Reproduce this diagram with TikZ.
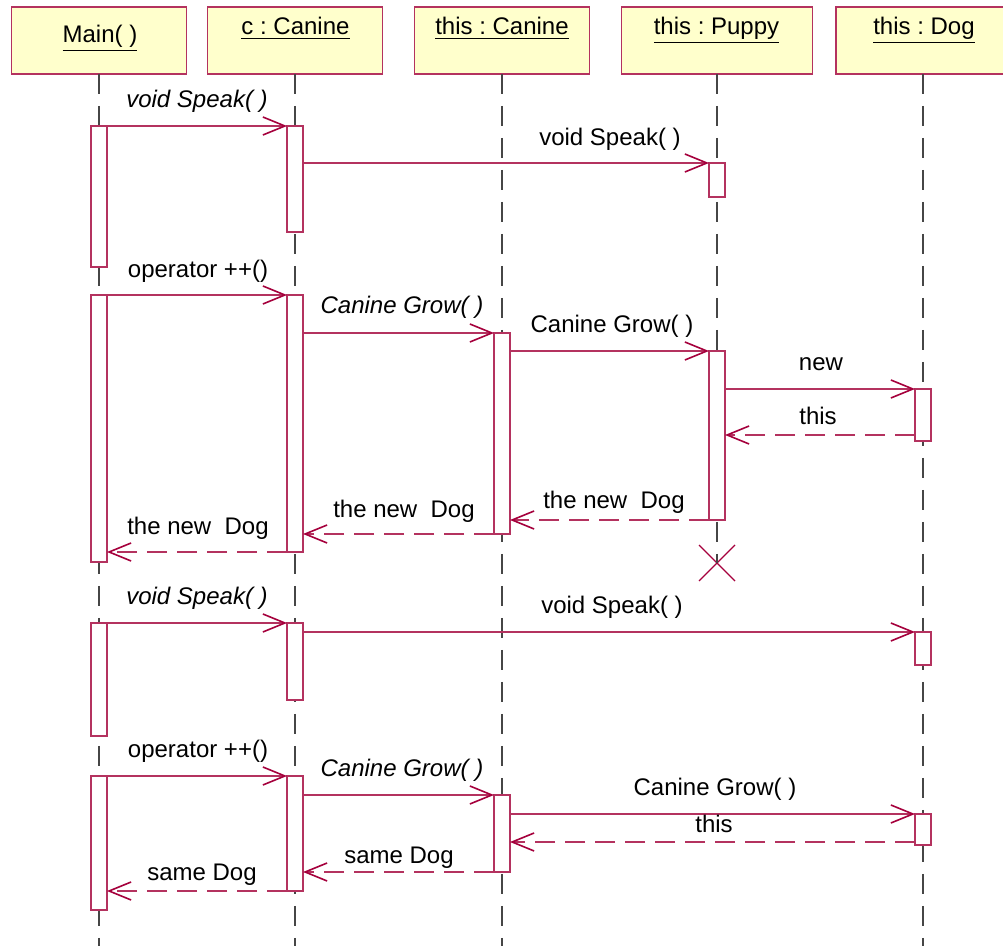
\documentclass[tikz,border=0pt]{standalone}
\usepackage{fontspec}
\setmainfont{Liberation Sans}
\usetikzlibrary{arrows.meta,shapes.misc}
\definecolor{umlred}{RGB}{165,0,60}
\definecolor{umlpink}{RGB}{180,50,95}
\definecolor{hdrfill}{RGB}{255,255,204}
\definecolor{lifegray}{RGB}{70,70,70}
\newcommand\actbar[4]{\node[actbox, minimum height=#4*0.5pt] (#1) at (#2,#3) {};}
\frenchspacing
\begin{document}
\begin{tikzpicture}[x=0.5pt,y=-0.5pt,
  hdr/.style={draw=umlpink, fill=hdrfill, line width=0.6pt, minimum height=33.5pt, inner sep=0pt, outer sep=0pt, anchor=north},
  txt/.style={anchor=base, inner sep=0pt, font=\fontsize{12}{14}\selectfont},
  itxt/.style={txt, font=\fontsize{12}{14}\selectfont\itshape},
  life/.style={draw=lifegray, line width=0.55pt, dash pattern=on 10pt off 6pt},
  actbox/.style={draw=umlpink, fill=white, line width=0.6pt, minimum width=8pt, inner sep=0pt, outer sep=0pt, anchor=north},
  call/.style={draw=umlpink, line width=0.55pt, -{Straight Barb[length=11pt,width=9pt,line width=0.8pt,color=umlred]}},
  ret/.style={call, dash pattern=on 10pt off 5pt},
  killx/.style={cross out, draw=umlred, line width=0.6pt, minimum size=18pt, inner sep=0pt, outer sep=0pt}]
\useasboundingbox (0,0) rectangle (1003,946);
\coordinate (bot) at (0,946);
% headers
\node[hdr, minimum width=87.5pt] (hMain) at (99,7) {};
\node[hdr, minimum width=87.5pt] (hC) at (295,7) {};
\node[hdr, minimum width=87.5pt] (hT) at (502,7) {};
\node[hdr, minimum width=95.5pt] (hP) at (717,7) {};
\node[hdr, minimum width=87pt] (hD) at (923,7) {};
\node[txt] (tMain) at (100,43) {\underline{Main( )}};
\node[txt] (tC) at (295.5,35) {\underline{c : Canine}};
\node[txt] (tT) at (502,35) {\underline{this : Canine}};
\node[txt] (tP) at (716.5,35) {\underline{this : Puppy}};
\node[txt] (tD) at (924,35) {\underline{this : Dog}};
% destruction mark
\node[killx] (kill) at (717,563) {};
% lifelines
\draw[life] (hMain.south) -- (hMain.south |- bot);
\draw[life] (hC.south) -- (hC.south |- bot);
\draw[life] (hT.south) -- (hT.south |- bot);
\draw[life] (hP.south) -- (kill.center);
\draw[life] (hD.south) -- (hD.south |- bot);
% activations
\actbar{m1}{99}{126}{141}
\actbar{c1}{295}{126}{106}
\actbar{p1}{717}{163}{34}
\actbar{m2}{99}{295}{267}
\actbar{c2}{295}{295}{257}
\actbar{t2}{502}{333}{201}
\actbar{p2}{717}{351}{169}
\actbar{d1}{923}{389}{52}
\actbar{m3}{99}{623}{113}
\actbar{c3}{295}{623}{77}
\actbar{d3}{923}{632}{33}
\actbar{m4}{99}{776}{134}
\actbar{c4}{295}{776}{115}
\actbar{t4}{502}{795}{77}
\actbar{d4}{923}{814}{31}
% messages
\draw[call] (m1.north east) -- (c1.north west);
\draw[call] (c1.east |- p1.north) -- (p1.north west);
\draw[call] (m2.north east) -- (c2.north west);
\draw[call] (c2.east |- t2.north) -- (t2.north west);
\draw[call] (t2.east |- p2.north) -- (p2.north west);
\draw[call] (p2.east |- d1.north) -- (d1.north west);
\coordinate (r1) at ([yshift=3pt]d1.south west);
\draw[ret] (r1) -- (p2.east |- r1);
\draw[ret] (p2.south west) -- (t2.east |- p2.south);
\draw[ret] (t2.south west) -- (c2.east |- t2.south);
\draw[ret] (c2.south west) -- (m2.east |- c2.south);
\draw[call] (m3.north east) -- (c3.north west);
\draw[call] (c3.east |- d3.north) -- (d3.north west);
\draw[call] (m4.north east) -- (c4.north west);
\draw[call] (c4.east |- t4.north) -- (t4.north west);
\draw[call] (t4.east |- d4.north) -- (d4.north west);
\coordinate (r2) at ([yshift=1.5pt]d4.south west);
\draw[ret] (r2) -- (t4.east |- r2);
\draw[ret] (t4.south west) -- (c4.east |- t4.south);
\draw[ret] (c4.south west) -- (m4.east |- c4.south);
% labels
\node[itxt] (l1) at (197,108) {void Speak( )};
\node[txt] (l2) at (610,146) {void Speak( )};
\node[txt] (l3) at (198,278) {operator ++()};
\node[itxt] (l4) at (402,314) {Canine Grow( )};
\node[txt] (l5) at (612,333) {Canine Grow( )};
\node[txt] (l6) at (821,371) {new};
\node[txt] (l7) at (818,425) {this};
\node[txt] (l8) at (614,509) {the new\ \ Dog};
\node[txt] (l9) at (404,518) {the new\ \ Dog};
\node[txt] (l10) at (198,535) {the new\ \ Dog};
\node[itxt] (l11) at (197,605) {void Speak( )};
\node[txt] (l12) at (612,614) {void Speak( )};
\node[txt] (l13) at (198,758) {operator ++()};
\node[itxt] (l14) at (402,777) {Canine Grow( )};
\node[txt] (l15) at (715,796) {Canine Grow( )};
\node[txt] (l16) at (714,833) {this};
\node[txt] (l17) at (399,864) {same Dog};
\node[txt] (l18) at (202,881) {same Dog};
\end{tikzpicture}
\end{document}
